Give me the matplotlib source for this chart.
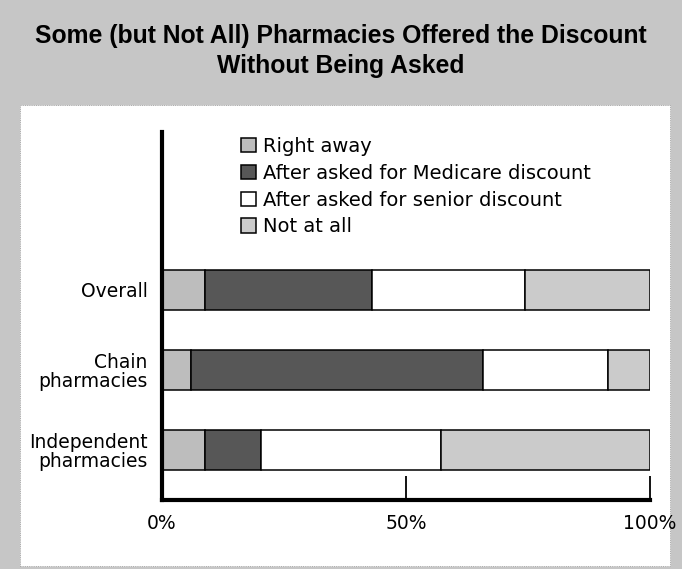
import numpy as np
import matplotlib.pyplot as plt
from matplotlib.patches import Rectangle

# Datos (porcentajes)
categorias = ["Overall", "Chain\npharmacies", "Independent\npharmacies"]
series = ["Right away", "After asked for Medicare discount",
          "After asked for senior discount", "Not at all"]
right_away = [8.8, 5.9, 8.8]
medicare = [34.2, 59.9, 11.5]
senior = [31.4, 25.6, 36.9]
not_at_all = [25.6, 8.6, 42.8]
colores = ["#bdbdbd", "#575757", "#ffffff", "#cbcbcb"]
ticks_x = [0, 50, 100]
ticks_x_labels = ["0%", "50%", "100%"]

plt.rcParams['font.family'] = ['DejaVu Sans']

fig = plt.figure(figsize=(6.82, 5.69), dpi=100, facecolor="#c6c6c6")
W, H = 682, 569

# panel blanco
fig.patches.append(Rectangle((20 / W, 1 - 566 / H), 650 / W, 461 / H,
                             transform=fig.transFigure, facecolor="white",
                             edgecolor="#9a9a9a", linewidth=0.6, linestyle=":",
                             zorder=0))

fuente_titulo = ['Liberation Sans', 'DejaVu Sans']
fig.text(0.5, 1 - 36 / H, "Some (but Not All) Pharmacies Offered the Discount",
         ha="center", va="center", fontsize=17.8, fontweight="bold", family=fuente_titulo)
fig.text(0.5, 1 - 66 / H, "Without Being Asked",
         ha="center", va="center", fontsize=17.8, fontweight="bold", family=fuente_titulo)

ax = fig.add_axes([162 / W, 1 - 500 / H, 488 / W, 368 / H])
ax.set_zorder(2)
ax.set_facecolor("none")

y = np.arange(len(categorias))
izq = np.zeros(len(categorias))
for valores, nombre, color in zip([right_away, medicare, senior, not_at_all], series, colores):
    ax.barh(y, valores, left=izq, height=0.5, color=color, edgecolor="black",
            linewidth=1.1, label=nombre)
    izq += np.array(valores)

ax.set_xlim(0, 100)
ax.set_ylim(2.625, -1.975)
ax.set_yticks(y)
ax.set_yticklabels(categorias, fontsize=13.5, linespacing=1.0)
ax.set_xticks(ticks_x)
ax.set_xticklabels(ticks_x_labels, fontsize=13.5)
ax.tick_params(axis="y", length=0, pad=10.5)
ax.tick_params(axis="x", direction="in", length=17, width=1.3, pad=10)
for lado in ["top", "right"]:
    ax.spines[lado].set_visible(False)
ax.spines["left"].set_linewidth(3)
ax.spines["bottom"].set_linewidth(3)

ax.legend(loc="upper left", bbox_to_anchor=(241 / W, 1 - 137 / H),
          bbox_transform=fig.transFigure, frameon=False, fontsize=14,
          handlelength=0.75, handleheight=0.75, handletextpad=0.4,
          labelspacing=0.4, borderpad=0, borderaxespad=0)

fig.savefig("out.png", dpi=100, facecolor=fig.get_facecolor())
